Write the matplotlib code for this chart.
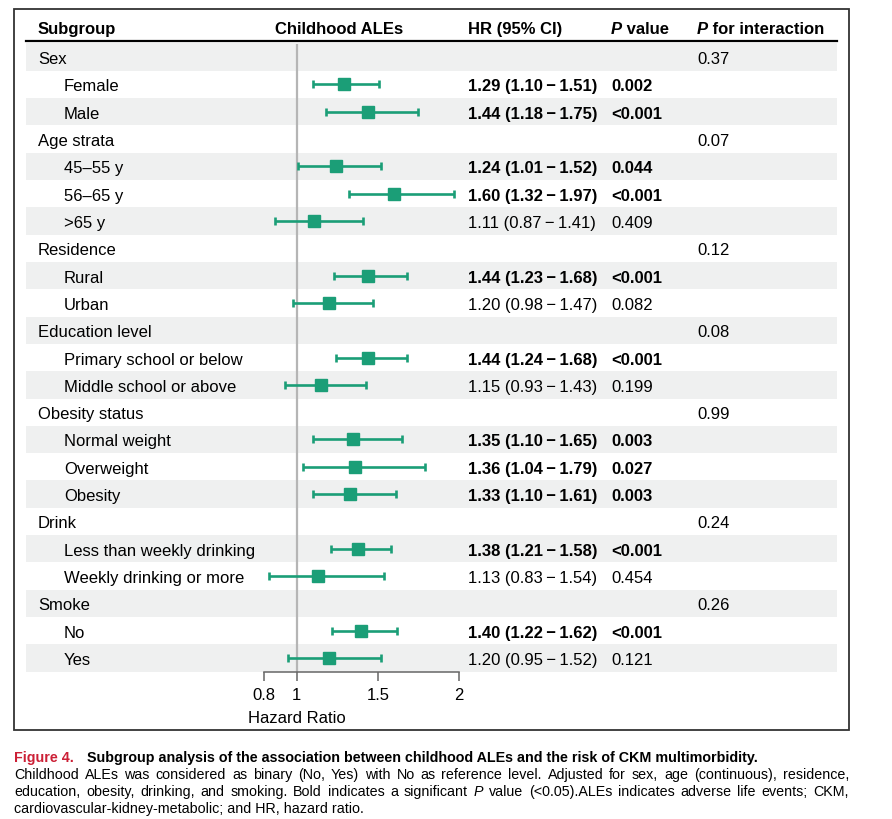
import numpy as np
import matplotlib
matplotlib.use("Agg")
import matplotlib.pyplot as plt
from matplotlib.patches import Rectangle

plt.rcParams['font.family'] = ['Liberation Sans', 'DejaVu Sans']

# ---------------- data ----------------
group_names = ["Sex", "Age strata", "Residence", "Education level",
               "Obesity status", "Drink", "Smoke"]
p_interaction = ["0.37", "0.07", "0.12", "0.08", "0.99", "0.24", "0.26"]
subgroups = [
    ["Female", "Male"],
    ["45–55 y", "56–65 y", ">65 y"],
    ["Rural", "Urban"],
    ["Primary school or below", "Middle school or above"],
    ["Normal weight", "Overweight", "Obesity"],
    ["Less than weekly drinking", "Weekly drinking or more"],
    ["No", "Yes"],
]
hr = [1.29, 1.44, 1.24, 1.60, 1.11, 1.44, 1.20, 1.44, 1.15,
      1.35, 1.36, 1.33, 1.38, 1.13, 1.40, 1.20]
ci_low = [1.10, 1.18, 1.01, 1.32, 0.87, 1.23, 0.98, 1.24, 0.93,
          1.10, 1.04, 1.10, 1.21, 0.83, 1.22, 0.95]
ci_high = [1.51, 1.75, 1.52, 1.97, 1.41, 1.68, 1.47, 1.68, 1.43,
           1.65, 1.79, 1.61, 1.58, 1.54, 1.62, 1.52]
p_values = ["0.002", "<0.001", "0.044", "<0.001", "0.409", "<0.001", "0.082",
            "<0.001", "0.199", "0.003", "0.027", "0.003", "<0.001", "0.454",
            "<0.001", "0.121"]
x_ticks = [0.8, 1, 1.5, 2]
x_tick_labels = ["0.8", "1", "1.5", "2"]

# ---------------- layout ----------------
W, H = 892, 820
fig = plt.figure(figsize=(W / 100, H / 100), dpi=100)
fig.patch.set_facecolor("white")
ax0 = fig.add_axes([0, 0, 1, 1])
ax0.set_xlim(0, W)
ax0.set_ylim(H, 0)
ax0.axis("off")

GREEN = "#1b9e77"
SHADE = "#eff0f0"
FS = 12
ROW0, DY = 58.0, 27.32

def row_y(i):
    return ROW0 + DY * i

# build row list
rows = []  # (label, is_group, data_index or group_index)
k = 0
for g, (gname, subs) in enumerate(zip(group_names, subgroups)):
    rows.append((gname, True, g))
    for s in subs:
        rows.append((s, False, k))
        k += 1
n_rows = len(rows)

# shading
for i in range(n_rows):
    if i % 2 == 0:
        ax0.add_patch(Rectangle((26, row_y(i) - DY / 2), 837 - 26, DY,
                                facecolor=SHADE, edgecolor="none", zorder=0))

# header line & border
ax0.plot([26, 837], [42, 42], color="black", lw=1.6, zorder=2)
ax0.add_patch(Rectangle((14, 10), 849 - 14, 731 - 10, facecolor="none",
                        edgecolor="#333333", lw=1.3, zorder=3))

renderer = fig.canvas.get_renderer()

def pieces(x, y, parts, size=FS, color="black", va="center_baseline"):
    """draw sequence of (text, weight, style) parts starting at x"""
    for txt, weight, style in parts:
        t = ax0.text(x, y, txt, fontsize=size, fontweight=weight,
                     fontstyle=style, color=color, ha="left", va=va, zorder=4)
        bb = t.get_window_extent(renderer)
        x += bb.width
    return x

# headers
HY = 28
pieces(38, HY, [("Subgroup", "bold", "normal")])
pieces(275, HY, [("Childhood ALEs", "bold", "normal")])
pieces(468, HY, [("HR (95% CI)", "bold", "normal")])
pieces(611, HY, [("P", "bold", "italic"), (" value", "bold", "normal")])
pieces(697, HY, [("P", "bold", "italic"), (" for interaction", "bold", "normal")])

def is_sig(p):
    if p.startswith("<"):
        return True
    return float(p) < 0.05

for i, (label, is_group, idx) in enumerate(rows):
    y = row_y(i)
    if is_group:
        ax0.text(38, y, label, fontsize=FS, ha="left", va="center_baseline", zorder=4)
        ax0.text(697, y, p_interaction[idx], fontsize=FS, ha="left",
                 va="center_baseline", zorder=4)
    else:
        ax0.text(64, y, label, fontsize=FS, ha="left", va="center_baseline", zorder=4)
        w = "bold" if is_sig(p_values[idx]) else "normal"
        s = f"{hr[idx]:.2f} ({ci_low[idx]:.2f}\u2009\u2212\u2009{ci_high[idx]:.2f})"
        ax0.text(468, y, s, fontsize=FS, fontweight=w, ha="left",
                 va="center_baseline", zorder=4)
        ax0.text(611, y, p_values[idx], fontsize=FS, fontweight=w, ha="left",
                 va="center_baseline", zorder=4)

# ---------------- forest axes ----------------
L, R, T, B = 264, 459, 45, 673
axf = fig.add_axes([L / W, (H - B) / H, (R - L) / W, (B - T) / H])
axf.patch.set_alpha(0)
axf.set_xlim(0.8, 2.0)
i_top = (T - ROW0) / DY
i_bot = (B - ROW0) / DY
axf.set_ylim(i_bot, i_top)

data_rows = [i for i, r in enumerate(rows) if not r[1]]
hr_a = np.array(hr)
lo_a = np.array(ci_low)
hi_a = np.array(ci_high)
axf.axvline(1, color="#b5b5b5", lw=1.6, zorder=1)
axf.errorbar(hr_a, data_rows, xerr=[hr_a - lo_a, hi_a - hr_a], fmt="s",
             ms=9, color=GREEN, ecolor=GREEN, elinewidth=1.9, capsize=3,
             capthick=1.9, clip_on=False, zorder=3)

for s in ["top", "right", "left"]:
    axf.spines[s].set_visible(False)
axf.spines["bottom"].set_bounds(0.8, 2.0)
axf.spines["bottom"].set_color("#666666")
axf.spines["bottom"].set_linewidth(1.1)
axf.set_yticks([])
axf.set_xticks(x_ticks)
axf.set_xticklabels(x_tick_labels, fontsize=FS)
axf.tick_params(axis="x", direction="out", length=6.5, width=1.1,
                color="#666666", pad=4.5)
ax0.text(297, 717, "Hazard Ratio", fontsize=FS, ha="center",
         va="center_baseline", zorder=4)

# ---------------- caption ----------------
CFS = 10.3
x = pieces(14, 757, [("Figure 4.", "bold", "normal")], size=CFS, color="#cc2036")
pieces(87, 757, [("Subgroup analysis of the association between childhood ALEs "
                  "and the risk of CKM multimorbidity.", "bold", "normal")], size=CFS)

def justified(y, words, x0=14, x1=849, size=CFS):
    ws = []
    objs = []
    for txt, style in words:
        t = ax0.text(0, y, txt, fontsize=size, fontstyle=style,
                     ha="left", va="center_baseline", zorder=4)
        objs.append(t)
        ws.append(t.get_window_extent(renderer).width)
    gap = (x1 - x0 - sum(ws)) / (len(words) - 1)
    x = x0
    for t, w in zip(objs, ws):
        t.set_x(x)
        x += w + gap

line2 = ("Childhood ALEs was considered as binary (No, Yes) with No as reference "
         "level. Adjusted for sex, age (continuous), residence,")
line3 = ("education, obesity, drinking, and smoking. Bold indicates a significant "
         "P value (<0.05).ALEs indicates adverse life events; CKM,")
justified(774, [(w, "normal") for w in line2.split()])
justified(791, [(w, "italic" if w == "P" else "normal") for w in line3.split()])
ax0.text(14, 808, "cardiovascular-kidney-metabolic; and HR, hazard ratio.",
         fontsize=CFS, ha="left", va="center_baseline", zorder=4)

fig.savefig("out.png", dpi=100, facecolor="white")
